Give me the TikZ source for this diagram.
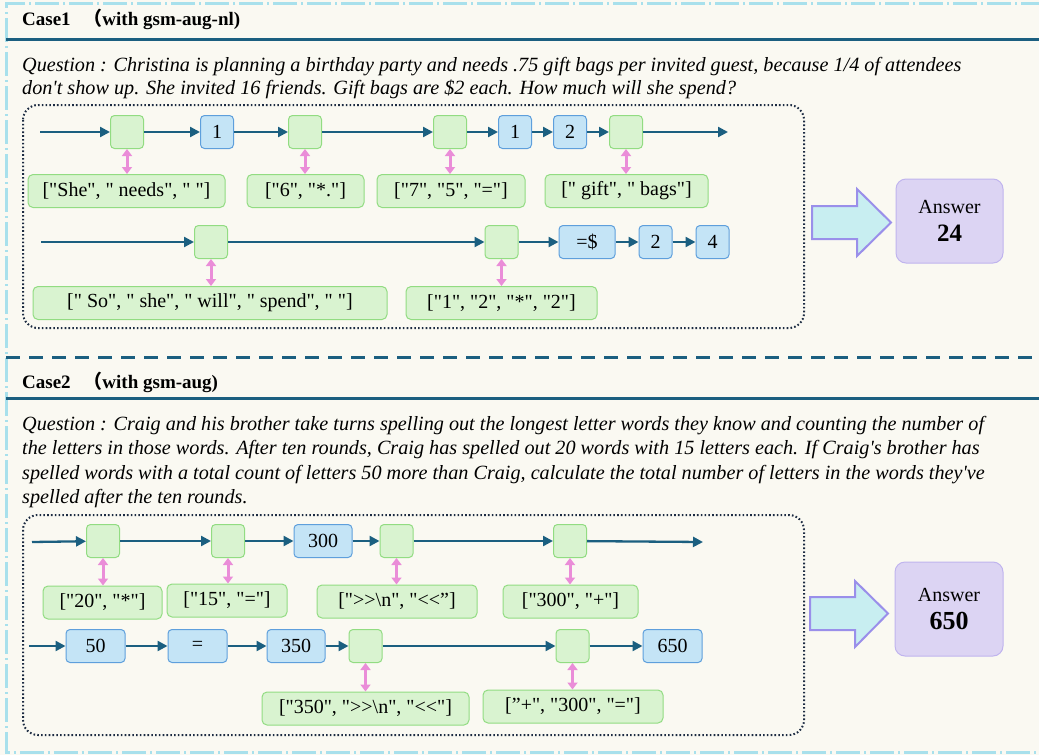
\documentclass[tikz,border=0pt]{standalone}
\usepackage{fontspec}
\setmainfont[Ligatures=TeXOff]{Liberation Serif}
\newfontfamily\cjkfont{Noto Sans CJK SC}
\usepackage{xcolor}
\usetikzlibrary{arrows.meta,positioning,calc}
\definecolor{paper}{HTML}{FAF9F2}
\definecolor{frame}{HTML}{A8E0EC}
\definecolor{teal}{HTML}{1B5F80}
\definecolor{navy}{HTML}{1C2B42}
\definecolor{tokfill}{HTML}{D9F3D0}
\definecolor{tokline}{HTML}{92DC82}
\definecolor{valfill}{HTML}{C4E4F6}
\definecolor{valline}{HTML}{5E9FDC}
\definecolor{pinkc}{HTML}{EA8DD8}
\definecolor{bigfill}{HTML}{C8EEF1}
\definecolor{bigline}{HTML}{9A8FEA}
\definecolor{ansfill}{HTML}{DCD4F3}
\definecolor{ansline}{HTML}{C0B4EE}
\tikzset{
  tok/.style={draw=tokline,fill=tokfill,line width=1pt,rounded corners=4pt,minimum width=33pt,minimum height=33pt,inner sep=0pt},
  val/.style={draw=valline,fill=valfill,line width=1pt,rounded corners=4pt,minimum width=33pt,minimum height=33pt,inner sep=0pt,font=\fontsize{20}{20}\selectfont},
  lbl/.style={draw=tokline,fill=tokfill,line width=1pt,rounded corners=5pt,minimum height=33pt,inner sep=0pt,font=\fontsize{20}{20}\selectfont},
  ans/.style={draw=ansline,fill=ansfill,line width=1pt,rounded corners=10pt,align=center,inner sep=0pt,font=\fontsize{20}{28}\selectfont},
  flow/.style={-{Triangle[length=10pt,width=10pt]},draw=teal,line width=2.3pt},
  link/.style={{Triangle[length=7pt,width=10pt]}-{Triangle[length=7pt,width=10pt]},draw=pinkc,line width=3pt},
  bigarr/.style={fill=bigfill,draw=bigline,line width=2pt},
  plate/.style={draw=navy,line width=2pt,dash pattern=on 1.6pt off 2.2pt,rounded corners=15pt},
  head/.style={anchor=base west,inner sep=0pt,font=\fontsize{19}{19}\selectfont\bfseries},
  ques/.style={anchor=north west,inner sep=0pt,align=left},
}

\begin{document}
\begin{tikzpicture}[x=1pt,y=-1pt]
\useasboundingbox (0,0) rectangle (1039,755);
\fill[paper] (0,0) rectangle (1039,755);
\draw[frame,line width=3pt,dash pattern=on 24pt off 4pt on 2pt off 4pt] (1045,3) -- (6,3) -- (6,752) -- (1045,752);

% case 1
\node[head] (c1) at (22,25) {Case1\hspace{8pt} {\cjkfont （}with gsm-aug-nl)};
\draw[teal,line width=3pt] (6,39) -- (1039,39);
\node[ques,font=\fontsize{20.2}{23}\selectfont\itshape] (q1) at (22,57) {Question : Christina is planning a birthday party and needs .75 gift bags per invited guest, because 1/4 of attendees\\don't show up. She invited 16 friends. Gift bags are \$2 each. How much will she spend?};
\draw[plate] (23,105) rectangle (804,328);

\coordinate (s1) at (40,132); \coordinate (e1) at (728,132);
\node[tok] (g11) at (127,132) {};
\node[val] (v11) at (217,132) {1};
\node[tok] (g12) at (305,132) {};
\node[tok] (g13) at (450,132) {};
\node[val] (v12) at (515,132) {1};
\node[val] (v13) at (570,132) {2};
\node[tok] (g14) at (626,132) {};
\node[lbl,minimum width=197pt] (l11) at (126.5,191) {["She", " needs", " "]};
\node[lbl,minimum width=117pt] (l12) at (305.5,191) {["6", "*."]};
\node[lbl,minimum width=148pt] (l13) at (451,191) {["7", "5", "="]};
\node[lbl,minimum width=163pt] (l14) at (626.5,191) {[" gift", " bags"]};

\coordinate (s2) at (41,242);
\node[tok] (g21) at (211,242) {};
\node[tok] (g22) at (501.5,242) {};
\node[val,minimum width=56pt] (v21) at (587,242) {=\$};
\node[val] (v22) at (655.5,242) {2};
\node[val] (v23) at (712.5,242) {4};
\node[lbl,minimum width=354pt] (l21) at (210,303) {[" So", " she", " will", " spend", " "]};
\node[lbl,minimum width=191pt] (l22) at (501.5,303) {["1", "2", "*", "2"]};

\foreach \a/\b in {s1/g11,g11/v11,v11/g12,g12/g13,g13/v12,v12/v13,v13/g14,g14/e1,s2/g21,g21/g22,g22/v21,v21/v22,v22/v23}
  \draw[flow] (\a) -- (\b);
\foreach \a/\b in {g11/l11,g12/l12,g13/l13,g14/l14,g21/l21,g22/l22}
  \draw[link] (\a.south) -- (\a.south |- \b.north);

\draw[bigarr] (812,206) -- (857,206) -- (857,189) -- (891,222.5) -- (857,256) -- (857,239) -- (812,239) -- cycle;
\node[ans,minimum width=107pt,minimum height=84pt] (a1) at (949.5,221) {Answer\\{\fontsize{25}{25}\selectfont\bfseries 24}};

% case 2
\draw[teal,line width=3pt,dash pattern=on 14pt off 9pt] (6,357) -- (1039,357);
\node[head] (c2) at (22,388) {Case2\hspace{8pt} {\cjkfont （}with gsm-aug)};
\draw[teal,line width=3pt] (6,398) -- (1039,398);
\node[ques,font=\fontsize{20.2}{24.3}\selectfont\itshape] (q2) at (22,416) {Question : Craig and his brother take turns spelling out the longest letter words they know and counting the number of\\the letters in those words. After ten rounds, Craig has spelled out 20 words with 15 letters each. If Craig's brother has\\spelled words with a total count of letters 50 more than Craig, calculate the total number of letters in the words they've\\spelled after the ten rounds.};
\draw[plate] (23,515) rectangle (804,735);

\coordinate (s3) at (32,542); \coordinate (e3) at (703,542);
\node[tok] (g31) at (103,541) {};
\node[tok] (g32) at (228,541) {};
\node[val,minimum width=58pt] (v31) at (323,541) {300};
\node[tok] (g33) at (396.5,541) {};
\node[tok] (g34) at (570,541) {};
\node[lbl,minimum width=119pt] (l31) at (102.5,602.5) {["20", "*"]};
\node[lbl,minimum width=120pt] (l32) at (227,600.5) {["15", "="]};
\node[lbl,minimum width=160pt] (l33) at (397,601.5) {["{>}{>}\textbackslash n", "{<}{<}”]};
\node[lbl,minimum width=135pt] (l34) at (570.5,601.5) {["300", "+"]};

\coordinate (s4) at (29,646);
\node[val,minimum width=59pt] (v41) at (95.5,646) {50};
\node[val,minimum width=59pt] (v42) at (197.5,646) {=};
\node[val,minimum width=58pt] (v43) at (296,646) {350};
\node[tok] (g41) at (365.5,646) {};
\node[tok] (g42) at (572.5,646) {};
\node[val,minimum width=59pt] (v44) at (672.5,646) {650};
\node[lbl,minimum width=207pt] (l41) at (365.5,708.5) {["350", "{>}{>}\textbackslash n", "{<}{<}"]};
\node[lbl,minimum width=180pt] (l42) at (573,706.5) {[”+", "300", "="]};

\foreach \a/\b in {s3/g31,g31/g32,g32/v31,v31/g33,g33/g34,g34/e3,s4/v41,v41/v42,v42/v43,v43/g41,g41/g42,g42/v44}
  \draw[flow] (\a) -- (\b);
\foreach \a/\b in {g31/l31,g32/l32,g33/l33,g34/l34,g41/l41,g42/l42}
  \draw[link] (\a.south) -- (\a.south |- \b.north);

\draw[bigarr] (810,597) -- (855,597) -- (855,581) -- (888,613.5) -- (855,647) -- (855,630) -- (810,630) -- cycle;
\node[ans,minimum width=108pt,minimum height=94pt] (a2) at (949,609) {Answer\\{\fontsize{26}{26}\selectfont\bfseries 650}};
\end{tikzpicture}
\end{document}
